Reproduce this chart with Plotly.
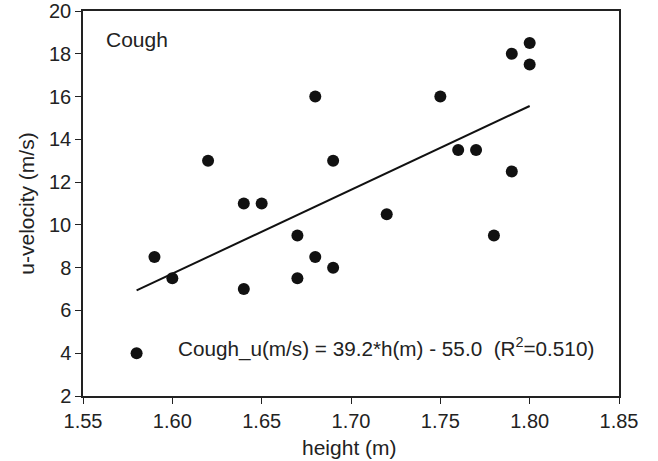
import plotly.graph_objects as go

height_m = [1.58, 1.59, 1.60, 1.62, 1.64, 1.64, 1.65, 1.67, 1.67, 1.68, 1.68,
            1.69, 1.69, 1.72, 1.75, 1.76, 1.77, 1.78, 1.79, 1.79, 1.80, 1.80]
u_velocity = [4.0, 8.5, 7.5, 13.0, 11.0, 7.0, 11.0, 9.5, 7.5, 16.0, 8.5,
              13.0, 8.0, 10.5, 16.0, 13.5, 13.5, 9.5, 18.0, 12.5, 18.5, 17.5]
fit_slope = 39.2
fit_intercept = -55.0
fit_r2 = 0.510

x_ticks = [1.55, 1.60, 1.65, 1.70, 1.75, 1.80, 1.85]
y_ticks = [2, 4, 6, 8, 10, 12, 14, 16, 18, 20]
x_title = "height (m)"
y_title = "u-velocity (m/s)"

FONT = "Liberation Sans, Arial, sans-serif"
TXT = "#222222"

fit_x = [min(height_m), max(height_m)]
fit_y = [fit_slope * h + fit_intercept for h in fit_x]

fig = go.Figure()
fig.add_trace(go.Scatter(x=height_m, y=u_velocity, mode="markers",
                         marker=dict(size=12, color="#111111"), showlegend=False))
fig.add_trace(go.Scatter(x=fit_x, y=fit_y, mode="lines",
                         line=dict(color="#111111", width=2), showlegend=False))

axis_common = dict(showgrid=False, zeroline=False, showline=True, linecolor="#222222",
                   linewidth=1.5, mirror=True, ticks="outside", ticklen=6, tickwidth=1.2,
                   tickcolor="#222222", tickfont=dict(family=FONT, size=20, color=TXT),
                   automargin=False)

fig.update_xaxes(range=[1.55, 1.85], tickvals=x_ticks,
                 ticktext=[f"{v:.2f}" for v in x_ticks], **axis_common)
fig.update_yaxes(range=[2, 20], tickvals=y_ticks, **axis_common)

fig.add_annotation(text=x_title, xref="paper", yref="paper", x=0.498, y=-0.135,
                   xanchor="center", yanchor="middle", showarrow=False,
                   font=dict(family=FONT, size=21, color=TXT))
fig.add_annotation(text=y_title, xref="paper", yref="paper", x=-0.106, y=0.5,
                   xanchor="center", yanchor="middle", showarrow=False, textangle=-90,
                   font=dict(family=FONT, size=21, color=TXT))

fig.add_annotation(text="Cough", xref="paper", yref="paper", x=0.04, y=0.925,
                   xanchor="left", yanchor="middle", showarrow=False,
                   font=dict(family=FONT, size=21, color=TXT))
fig.add_annotation(text=f"Cough_u(m/s) = {fit_slope:.1f}*h(m) - {abs(fit_intercept):.1f}  (R<sup>2</sup>={fit_r2:.3f})",
                   xref="paper", yref="paper", x=0.174, y=0.125,
                   xanchor="left", yanchor="middle", showarrow=False,
                   font=dict(family=FONT, size=20.7, color=TXT))

fig.update_layout(width=658, height=461, margin=dict(l=83, r=39, t=11, b=65),
                  plot_bgcolor="white", paper_bgcolor="white",
                  font=dict(family=FONT, size=20, color=TXT))

fig.write_html("out.html")
